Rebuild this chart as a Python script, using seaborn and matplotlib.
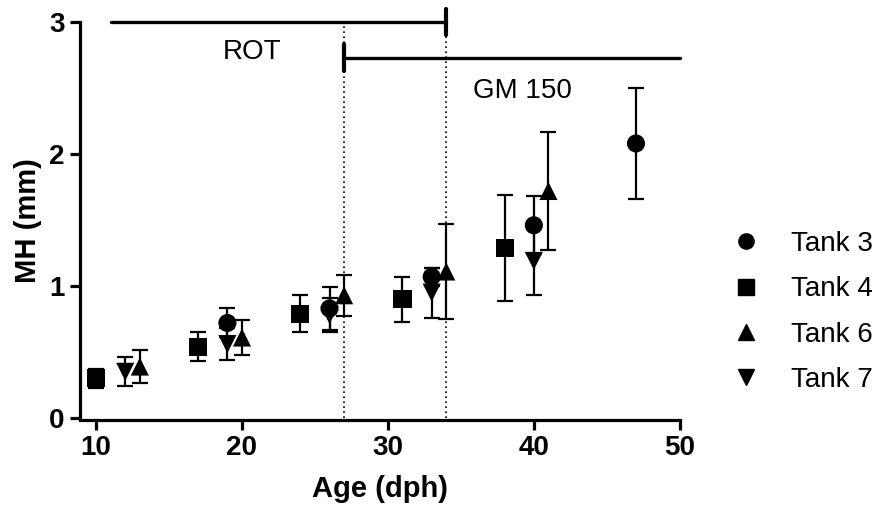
import numpy as np
import pandas as pd
import seaborn as sns
import matplotlib.pyplot as plt
from matplotlib.lines import Line2D

# data (mean and sd per sampling day)
tanks = ["Tank 3", "Tank 4", "Tank 6", "Tank 7"]
age_t3 = [19, 26, 33, 40, 47]
mh_t3 = [0.72, 0.83, 1.07, 1.46, 2.08]
sd_t3 = [0.11, 0.16, 0.07, 0.22, 0.42]
age_t4 = [10, 17, 24, 31, 38]
mh_t4 = [0.30, 0.54, 0.79, 0.90, 1.29]
sd_t4 = [0.075, 0.11, 0.14, 0.17, 0.40]
age_t6 = [13, 20, 27, 34, 41]
mh_t6 = [0.39, 0.61, 0.93, 1.11, 1.72]
sd_t6 = [0.125, 0.13, 0.155, 0.36, 0.45]
age_t7 = [12, 19, 26, 33, 40]
mh_t7 = [0.35, 0.56, 0.78, 0.95, 1.19]
sd_t7 = [0.11, 0.12, 0.13, 0.19, 0.26]

rot_period = [11, 34]
gm_period = [27, 50]

Data = pd.DataFrame({
    "tank": np.repeat(tanks, 5),
    "age": age_t3 + age_t4 + age_t6 + age_t7,
    "mh": mh_t3 + mh_t4 + mh_t6 + mh_t7,
    "sd": sd_t3 + sd_t4 + sd_t6 + sd_t7,
})
marks = {"Tank 3": "o", "Tank 4": "s", "Tank 6": "^", "Tank 7": "v"}

sns.set_theme(style="ticks")
plt.rcParams["font.family"] = ["Liberation Sans", "DejaVu Sans"]
plt.rcParams["text.color"] = "black"
plt.rcParams["axes.labelcolor"] = "black"

fig = plt.figure(figsize=(8.82, 5.2), dpi=100)
ax = fig.add_axes([0.0907, 0.1923, 0.680, 0.7654])

# error bars first, markers on top
for t in tanks:
    d = Data[Data["tank"] == t]
    ax.errorbar(d["age"], d["mh"], yerr=d["sd"], fmt="none", ecolor="black",
                elinewidth=1.6, capsize=6, capthick=1.6, zorder=2)
sns.scatterplot(data=Data, x="age", y="mh", style="tank", markers=marks,
                color="black", s=170, edgecolor="black", linewidth=0,
                legend=False, ax=ax, zorder=3)

# treatment periods
ax.plot(rot_period, [3.0, 3.0], color="black", lw=2.4, clip_on=False)
ax.plot([rot_period[1]] * 2, [2.9, 3.1], color="black", lw=3, clip_on=False)
ax.plot(gm_period, [2.73, 2.73], color="black", lw=2.4, clip_on=False)
ax.plot([gm_period[0]] * 2, [2.63, 2.83], color="black", lw=3, clip_on=False)
for xv in [27, 34]:
    ax.plot([xv, xv], [0, 3.0], color="black", lw=1.2, ls=(0, (1, 2)), zorder=1)
ax.text(20.7, 2.77, "ROT", fontsize=20, ha="center", va="center", color="black")
ax.text(39.2, 2.48, "GM 150", fontsize=20, ha="center", va="center", color="black")

ax.set_xlim(8.9, 50)
ax.set_ylim(-0.015, 3.0)
ax.set_xticks([10, 20, 30, 40, 50])
ax.set_yticks([0, 1, 2, 3])
sns.despine(ax=ax)
ax.spines["left"].set_bounds(0, 3)
for sp in ["left", "bottom"]:
    ax.spines[sp].set_linewidth(2.3)
    ax.spines[sp].set_color("black")
ax.tick_params(width=2.3, length=7, colors="black", labelcolor="black",
               labelsize=20, pad=4)
for lab in ax.get_xticklabels() + ax.get_yticklabels():
    lab.set_fontweight("bold")
ax.set_xlabel("Age (dph)", fontsize=21, fontweight="bold", labelpad=10, color="black")
ax.set_ylabel("MH (mm)", fontsize=21, fontweight="bold", labelpad=5, color="black")

handles = [Line2D([], [], ls="none", marker=marks[t], color="black", markersize=11)
           for t in tanks]
leg = fig.legend(handles, tanks, loc="center left", bbox_to_anchor=(0.818, 0.40),
                 frameon=False, fontsize=20, handlelength=1, handletextpad=1.1,
                 labelspacing=0.7, borderaxespad=0)
for txt in leg.get_texts():
    txt.set_color("black")

fig.savefig("out.png", dpi=100)
